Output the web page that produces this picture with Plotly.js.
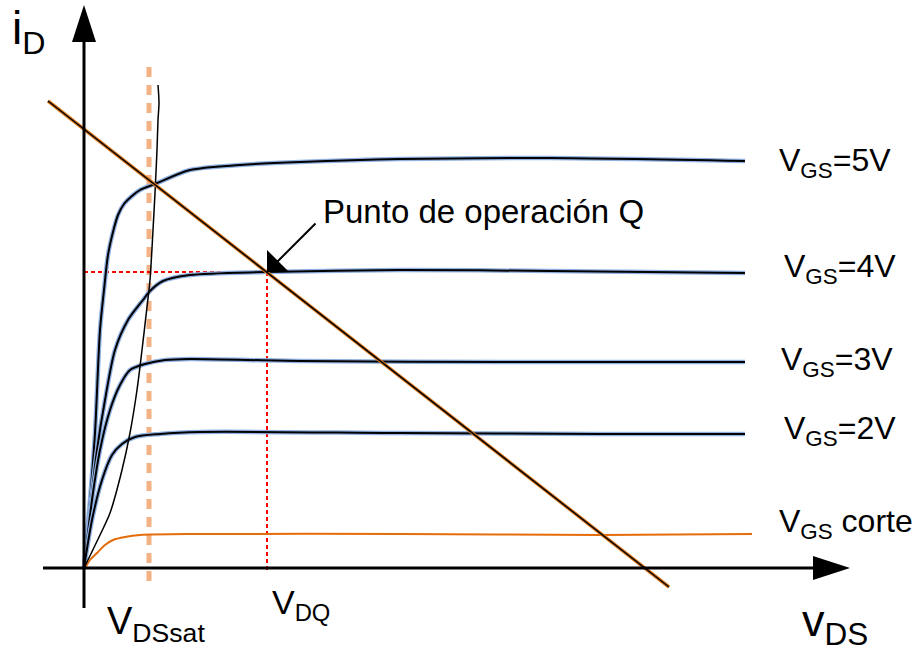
<!DOCTYPE html>
<html>
<head>
<meta charset="utf-8">
<script src="https://cdn.plot.ly/plotly-3.0.1.min.js"></script>
<style>
  body { margin: 0; background: #fff; }
  #chart { width: 914px; height: 650px; }
</style>
</head>
<body>
<div id="chart"></div>
<script>
"use strict";
// vDS / iD in arbitrary units (origin at the axes crossing)
const vds5 = [0, 6, 11, 16, 20, 24, 29, 34, 40, 48, 56, 71, 106, 156, 216, 316, 466, 661];
const id5 = [0, 68, 135, 238, 278, 313, 336, 353, 364, 372, 378, 384, 398, 403, 406, 409, 410, 407];

const vds4 = [0, 6, 13, 21, 31, 44, 59, 66, 79, 106, 181, 316, 466, 661];
const id4 = [0, 58, 118, 168, 218, 248, 268, 277, 287, 293, 296, 298, 297, 295];

const vds3 = [0, 8, 16, 26, 36, 46, 61, 81, 106, 216, 416, 661];
const id3 = [0, 68, 118, 158, 183, 198, 204, 208, 209, 207, 206, 206];

const vds2 = [0, 8, 18, 28, 38, 51, 76, 116, 316, 516, 661];
const id2 = [0, 48, 88, 113, 124, 131, 134, 136, 135, 134, 134];

const vdsCorte = [0, 6, 13, 21, 29, 41, 56, 116, 316, 516, 668];
const idCorte = [-2, 8, 15, 23, 28, 31, 33, 34, 34, 33, 34];

// locus of vDS(sat)
const vdsSat = [0, 16, 26, 38, 46, 53, 58, 63, 66, 69, 71, 73, 74, 75, 74];
const idSat = [0, 33, 55, 98, 135, 178, 218, 261, 288, 338, 375, 418, 448, 465, 483];

// load line
const vdsLoad = [-36, 585];
const idLoad = [467, -19];

// Q point and VDSsat marker
const vdsQ = 183;
const idQ = 296;
const vdsSatMark = 65;

const curveLabels = ["V<sub>GS</sub>=5V", "V<sub>GS</sub>=4V", "V<sub>GS</sub>=3V", "V<sub>GS</sub>=2V", "V<sub>GS</sub> corte"];
const labelX = [693, 698, 695, 698, 693];
const labelY = [406, 300, 207, 138, 45];

const font = "Liberation Sans, Arial, sans-serif";

function curve(x, y) {
  // blue halo under a black core
  return [
    {x: x, y: y, mode: "lines", line: {color: "#8fb0e0", width: 4.5, shape: "spline", smoothing: 0.8}, hoverinfo: "skip"},
    {x: x, y: y, mode: "lines", line: {color: "#000", width: 2, shape: "spline", smoothing: 0.8}, hoverinfo: "skip"},
  ];
}

const traces = [
  // VDSsat dashed marker
  {x: [vdsSatMark, vdsSatMark], y: [501, -20], mode: "lines", line: {color: "#f4b183", width: 5, dash: "10px,8px"}},
  // Q guides
  {x: [0, vdsQ], y: [idQ, idQ], mode: "lines", line: {color: "#ff0000", width: 2, dash: "4px,3px"}},
  {x: [vdsQ, vdsQ], y: [idQ, -4], mode: "lines", line: {color: "#ff0000", width: 2, dash: "4px,3px"}},
  ...curve(vds5, id5),
  ...curve(vds4, id4),
  ...curve(vds3, id3),
  ...curve(vds2, id2),
  {x: vdsCorte, y: idCorte, mode: "lines", line: {color: "#e46c0a", width: 2, shape: "spline", smoothing: 0.8}},
  {x: vdsSat, y: idSat, mode: "lines", line: {color: "#000", width: 1.5, shape: "spline", smoothing: 0.8}},
  // load line: orange edge, black core
  {x: vdsLoad, y: idLoad, mode: "lines", line: {color: "#e07a1f", width: 3.5}},
  {x: vdsLoad, y: idLoad, mode: "lines", line: {color: "#000", width: 1.5}},
];

const annotations = curveLabels.map((t, i) => ({
  x: labelX[i], y: labelY[i], xref: "x", yref: "y", text: t, showarrow: false,
  xanchor: "left", yanchor: "middle", font: {family: font, size: 32, color: "#000"},
}));

annotations.push(
  {x: -74, y: 537, xref: "x", yref: "y", text: "i<sub>D</sub>", showarrow: false, xanchor: "left", yanchor: "middle", font: {family: font, size: 46, color: "#000"}},
  {x: 716, y: -55, xref: "x", yref: "y", text: "v<sub>DS</sub>", showarrow: false, xanchor: "left", yanchor: "middle", font: {family: font, size: 45, color: "#000"}},
  {x: 21, y: -56, xref: "x", yref: "y", text: "V<sub>DSsat</sub>", showarrow: false, xanchor: "left", yanchor: "middle", font: {family: font, size: 38, color: "#000"}},
  {x: 186, y: -36, xref: "x", yref: "y", text: "V<sub>DQ</sub>", showarrow: false, xanchor: "left", yanchor: "middle", font: {family: font, size: 34, color: "#000"}},
  {x: 237, y: 357, xref: "x", yref: "y", text: "Punto de operación Q", showarrow: false, xanchor: "left", yanchor: "middle", font: {family: font, size: 33, color: "#000"}},
  {x: vdsQ, y: idQ, xref: "x", yref: "y", text: "", showarrow: true, ax: 50, ay: -50, arrowhead: 1, arrowsize: 2.6, arrowwidth: 2, arrowcolor: "#000", standoff: 0}
);

const shapes = [
  // axes
  {type: "line", xref: "x", yref: "y", x0: -41, y0: 0, x1: 731, y1: 0, line: {color: "#000", width: 3}},
  {type: "line", xref: "x", yref: "y", x0: 0, y0: -40, x1: 0, y1: 528, line: {color: "#000", width: 3}},
  {type: "path", xref: "x", yref: "y", path: "M 729 -12 L 766 0 L 729 12 Z", fillcolor: "#000", line: {width: 0}},
  {type: "path", xref: "x", yref: "y", path: "M -12 526 L 0 563 L 12 526 Z", fillcolor: "#000", line: {width: 0}},
];

const layout = {
  width: 914,
  height: 650,
  margin: {l: 0, r: 0, t: 0, b: 0},
  paper_bgcolor: "#fff",
  plot_bgcolor: "#fff",
  showlegend: false,
  xaxis: {range: [-84, 830], visible: false, fixedrange: true},
  yaxis: {range: [-82, 568], visible: false, fixedrange: true},
  annotations: annotations,
  shapes: shapes,
};

Plotly.newPlot("chart", traces, layout, {staticPlot: true});
</script>
</body>
</html>
